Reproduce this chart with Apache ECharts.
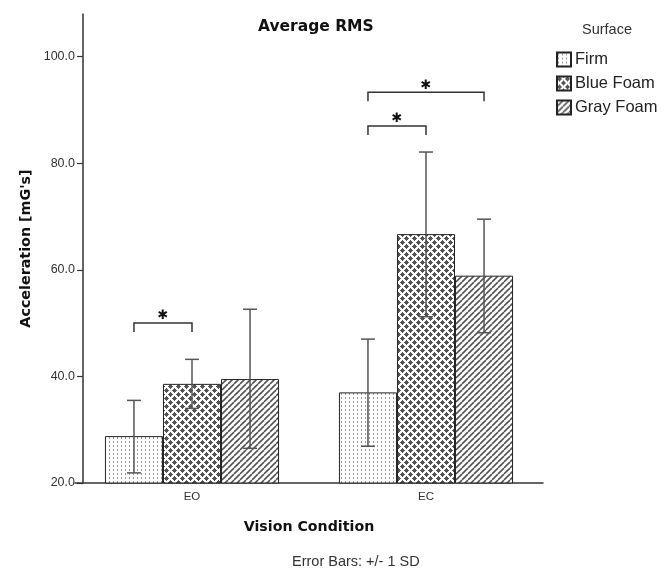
<!DOCTYPE html>
<html><head><meta charset="utf-8">
<script src="https://cdn.jsdelivr.net/npm/echarts@6/dist/echarts.min.js"></script>
<style>html,body{margin:0;background:#fff}#c{width:670px;height:570px}</style>
</head><body><div id="c"></div>
<script>
// ---- data ----
const categories = ['EO', 'EC'];
const surfaces = ['Firm', 'Blue Foam', 'Gray Foam'];
const firmMean = [28.8, 37.0];
const blueMean = [38.6, 66.7];
const grayMean = [39.5, 58.9];
const firmLow = [21.9, 26.9];
const firmHigh = [35.5, 47.0];
const blueLow = [34.0, 51.2];
const blueHigh = [43.2, 82.1];
const grayLow = [26.5, 48.2];
const grayHigh = [52.6, 69.5];
const yTicks = [20, 40, 60, 80, 100];
// significance brackets: category index, from bar, to bar, level
const sigCategory = [0, 1, 1];
const sigFrom = [0, 0, 0];
const sigTo = [1, 1, 2];
const sigLevel = [50.0, 87.0, 93.3];
const sigLabel = ['✱', '✱', '✱'];

// ---- patterns ----
function mk(w, h, draw) {
  const c = document.createElement('canvas');
  c.width = w; c.height = h;
  const g = c.getContext('2d');
  g.fillStyle = '#fff'; g.fillRect(0, 0, w, h);
  draw(g);
  return { image: c, repeat: 'repeat' };
}
const firmPat = mk(4, 4, g => { g.fillStyle = '#999'; g.fillRect(1, 1, 1, 2); });
const bluePat = mk(8, 8, g => {
  g.fillStyle = '#555';
  const pts = [[2, 2], [6, 6], [-2, 6], [6, -2], [-2, -2], [2, 10], [10, 2], [10, 10], [-2, 10], [10, -2]];
  pts.forEach(([cx, cy]) => {
    g.fillRect(cx - 1, cy - 1, 3, 3);
    g.fillRect(cx - 2, cy, 5, 1);
    g.fillRect(cx, cy - 2, 1, 5);
  });
});
const grayPat = mk(6, 6, g => {
  g.strokeStyle = '#555'; g.lineWidth = 1.6;
  [-6, 0, 6].forEach(x0 => { g.beginPath(); g.moveTo(x0, 6); g.lineTo(x0 + 6, 0); g.stroke(); });
});
const patterns = [firmPat, bluePat, grayPat];
const means = [firmMean, blueMean, grayMean];
const lows = [firmLow, blueLow, grayLow];
const highs = [firmHigh, blueHigh, grayHigh];

const CAT_GAP = 0.256;
function barOffset(api, idx) {
  const band = api.size([1, 0])[0];
  const bw = band * (1 - CAT_GAP) / 3;
  return (idx - 1) * bw;
}

const errData = [];
for (let s = 0; s < 3; s++) for (let c = 0; c < categories.length; c++) errData.push([c, lows[s][c], highs[s][c], s]);
const sigData = sigCategory.map((c, i) => [c, sigFrom[i], sigTo[i], sigLevel[i]]);

const series = surfaces.map((name, s) => ({
  name, type: 'bar', data: means[s], barGap: '0%', barCategoryGap: (CAT_GAP * 100) + '%',
  itemStyle: { color: patterns[s], borderColor: '#222', borderWidth: 1 },
  emphasis: { disabled: true }, silent: true, z: 2
}));
series.push({
  type: 'custom', name: 'err', data: errData, z: 5, silent: true,
  renderItem(params, api) {
    const c = api.value(0), lo = api.value(1), hi = api.value(2), s = api.value(3);
    const pl = api.coord([c, lo]), ph = api.coord([c, hi]);
    const x = pl[0] + barOffset(api, s);
    const st = { stroke: '#555', lineWidth: 1.5 };
    return { type: 'group', children: [
      { type: 'line', shape: { x1: x, y1: ph[1], x2: x, y2: pl[1] }, style: st },
      { type: 'line', shape: { x1: x - 7, y1: ph[1], x2: x + 7, y2: ph[1] }, style: st },
      { type: 'line', shape: { x1: x - 7, y1: pl[1], x2: x + 7, y2: pl[1] }, style: st }
    ]};
  }
});
series.push({
  type: 'custom', name: 'sig', data: sigData, z: 6, silent: true,
  renderItem(params, api) {
    const c = api.value(0), a = api.value(1), b = api.value(2), lv = api.value(3);
    const p = api.coord([c, lv]);
    const x1 = p[0] + barOffset(api, a), x2 = p[0] + barOffset(api, b);
    const y = p[1];
    const st = { stroke: '#333', lineWidth: 1.5, fill: null };
    return { type: 'group', children: [
      { type: 'polyline', shape: { points: [[x1, y + 9], [x1, y], [x2, y], [x2, y + 9]] }, style: st },
      { type: 'text', style: { text: sigLabel[params.dataIndex], x: (x1 + x2) / 2, y: y - 7, align: 'center', verticalAlign: 'middle',
        font: '13px "DejaVu Sans", sans-serif', fill: '#111' } }
    ]};
  }
});

const chart = echarts.init(document.getElementById('c'), null, { renderer: 'canvas' });
chart.setOption({
  animation: false,
  backgroundColor: '#fff',
  title: [
    { text: 'Average RMS', left: 258, top: 19, padding: 0,
      textStyle: { fontFamily: 'DejaVu Sans', fontWeight: 'bold', fontSize: 15.5, color: '#111' } },
    { text: 'Surface', left: 582, top: 22, padding: 0,
      textStyle: { fontFamily: 'Liberation Sans', fontWeight: 'normal', fontSize: 14.5, color: '#333' } },
    { text: 'Error Bars: +/- 1 SD', left: 292, top: 554, padding: 0,
      textStyle: { fontFamily: 'Liberation Sans', fontWeight: 'normal', fontSize: 14.5, color: '#333' } }
  ],
  legend: {
    data: surfaces, orient: 'vertical', left: 556, top: 51, padding: 0,
    itemWidth: 14, itemHeight: 14, itemGap: 7, icon: 'rect', selectedMode: false,
    textStyle: { fontFamily: 'Liberation Sans', fontSize: 16.5, color: '#222', padding: [0, 0, 0, -1] }
  },
  grid: { left: 75, right: 127, top: 14, bottom: 87 },
  xAxis: {
    type: 'category', data: categories,
    name: 'Vision Condition', nameLocation: 'middle', nameGap: 37,
    nameTextStyle: { fontFamily: 'DejaVu Sans', fontWeight: 'bold', fontSize: 14.2, color: '#111' },
    axisLine: { lineStyle: { color: '#333', width: 1.5 } },
    axisTick: { alignWithLabel: true, length: 5, lineStyle: { color: '#333', width: 1.2 } },
    axisLabel: { fontFamily: 'Liberation Sans', fontSize: 11.5, color: '#333', margin: 8 },
    splitLine: { show: false }
  },
  yAxis: {
    type: 'value', min: 20, max: 108, interval: 20, offset: -8,
    name: "Acceleration [mG's]", nameLocation: 'middle', nameGap: 48,
    nameTextStyle: { fontFamily: 'DejaVu Sans', fontWeight: 'bold', fontSize: 14.3, color: '#111' },
    axisLine: { show: true, lineStyle: { color: '#333', width: 1.5 } },
    axisTick: { show: true, length: 6, customValues: yTicks, lineStyle: { color: '#333', width: 1.2 } },
    axisLabel: { customValues: yTicks, formatter: v => v.toFixed(1), fontFamily: 'Liberation Sans', fontSize: 12.5, color: '#333', margin: 8 },
    splitLine: { show: false }
  },
  series
});
</script></body></html>
